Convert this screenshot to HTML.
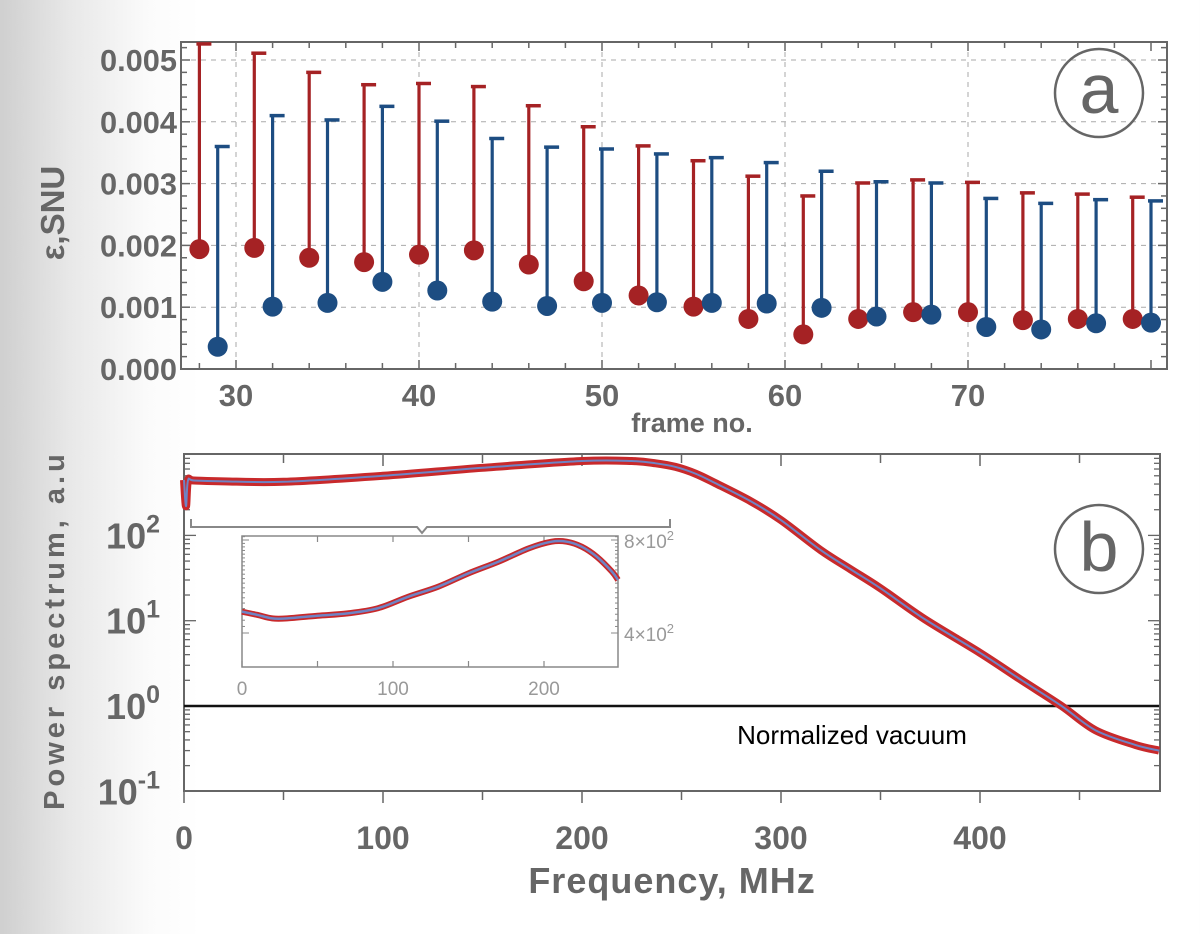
<!DOCTYPE html>
<html><head><meta charset="utf-8">
<style>
html,body{margin:0;padding:0;}
body{width:1200px;height:929px;overflow:hidden;background:linear-gradient(to right,#cfcfcf 0px,#e8e8e8 70px,#fbfbfb 150px,#ffffff 200px);font-family:"Liberation Sans",sans-serif;}
svg text{font-family:"Liberation Sans",sans-serif;}
</style></head>
<body>
<svg id="fig" width="1200" height="929" viewBox="0 0 1200 929" xmlns="http://www.w3.org/2000/svg">
  <g id="panelA"></g>
  <g id="panelB"></g>
</svg>
<script>
// ---------- Panel (a) data ----------
const redFrames = [28,31,34,37,40,43,46,49,52,55,58,61,64,67,70,73,76,79];
const redValues = [0.00194,0.00196,0.00180,0.00173,0.00185,0.00192,0.00169,0.00142,0.00119,0.00101,0.00081,0.00056,0.00081,0.00092,0.00092,0.00079,0.00081,0.00081];
const redUpper  = [0.00526,0.00511,0.00480,0.00460,0.00462,0.00457,0.00426,0.00392,0.00361,0.00337,0.00312,0.00280,0.00301,0.00306,0.00302,0.00285,0.00283,0.00278];
const blueFrames = [29,32,35,38,41,44,47,50,53,56,59,62,65,68,71,74,77,80];
const blueValues = [0.00036,0.00101,0.00107,0.00141,0.00127,0.00109,0.00102,0.00107,0.00108,0.00107,0.00106,0.00099,0.00085,0.00088,0.00068,0.00064,0.00074,0.00075];
const blueUpper  = [0.00360,0.00410,0.00403,0.00425,0.00401,0.00373,0.00359,0.00356,0.00348,0.00342,0.00334,0.00320,0.00303,0.00301,0.00276,0.00268,0.00274,0.00272];
const aXTicks = [30,40,50,60,70];
const aYTicks = [0,0.001,0.002,0.003,0.004,0.005];
const aYTickLabels = ["0.000","0.001","0.002","0.003","0.004","0.005"];

// ---------- Panel (b) data ----------
const specFreq  = [0,1,2,5,20,50,100,150,200,225,237,247,257,267,285,300,320,335,350,372,400,421,441,458,478,490];
const specPower = [447,220,440,440,430,425,500,620,745,745,700,635,530,410,250,151,67,40,24,10.5,4.2,2,1,0.52,0.35,0.30];
const vacFreq  = [0,490];
const vacPower = [1.0,1.0];
const insetFreq  = [0,10,20,30,50,70,90,110,130,150,170,190,205,215,225,235,245,249];
const insetPower = [469,458,446,446,455,463,481,524,565,624,681,752,790,790,761,706,632,594];
const bXTicks = [0,100,200,300,400];
const bYDecades = [-1,0,1,2];
const insetXTicks = [0,100,200];

const NS="http://www.w3.org/2000/svg";
function mk(tag,parent,attrs){const e=document.createElementNS(NS,tag);for(const k in attrs)e.setAttribute(k,attrs[k]);parent.appendChild(e);return e;}
function smooth(pts){let d='M'+pts[0][0]+','+pts[0][1];
 for(let i=0;i<pts.length-1;i++){const p0=pts[Math.max(0,i-1)],p1=pts[i],p2=pts[i+1],p3=pts[Math.min(pts.length-1,i+2)];
  const c1x=p1[0]+(p2[0]-p0[0])/6,c1y=p1[1]+(p2[1]-p0[1])/6,c2x=p2[0]-(p3[0]-p1[0])/6,c2y=p2[1]-(p3[1]-p1[1])/6;
  d+=' C'+c1x+','+c1y+' '+c2x+','+c2y+' '+p2[0]+','+p2[1];}
 return d;}
const gray="#666";

// ===== Panel A =====
(function(){
const g=document.getElementById('panelA');
const L=181,R=1167,T=42,B=369;
const x=v=>236+(v-30)*18.3;
const y=v=>369-v*61800;
aXTicks.forEach(t=>{const l=mk('line',g,{x1:x(t),x2:x(t),y1:T,y2:B,stroke:'#aaa','stroke-width':1,'stroke-dasharray':'5,5'});

});
aYTicks.slice(1).forEach(t=>{const l=mk('line',g,{x1:L,x2:R,y1:y(t),y2:y(t),stroke:'#aaa','stroke-width':1,'stroke-dasharray':'5,5'});

});
const fr=mk('rect',g,{x:L,y:T,width:R-L,height:B-T,fill:'none',stroke:gray,'stroke-width':2});


for(let v=28;v<=80;v+=2){const len=(v%10===0)?9:6;
 mk('line',g,{x1:x(v),x2:x(v),y1:B,y2:B-len,stroke:gray,'stroke-width':1.5});
 mk('line',g,{x1:x(v),x2:x(v),y1:T,y2:T+len,stroke:gray,'stroke-width':1.5});}
for(let i=0;i<=26;i++){const v=i*0.0002;const len=(i%5===0)?9:6;
 mk('line',g,{x1:L,x2:L+len,y1:y(v),y2:y(v),stroke:gray,'stroke-width':1.5});
 mk('line',g,{x1:R,x2:R-len,y1:y(v),y2:y(v),stroke:gray,'stroke-width':1.5});}
aYTicks.forEach((t,i)=>{const tx=mk('text',g,{x:177,y:y(t)+11,'text-anchor':'end','font-size':31,'font-weight':'bold',fill:gray,'textLength':77,'lengthAdjust':'spacingAndGlyphs'});tx.textContent=aYTickLabels[i];

});
aXTicks.forEach(t=>{const tx=mk('text',g,{x:x(t),y:406,'text-anchor':'middle','font-size':31,'font-weight':'bold',fill:gray});tx.textContent=t;

});
const xt=mk('text',g,{x:692,y:432,'text-anchor':'middle','font-size':27,'font-weight':'bold',fill:gray});xt.textContent='frame no.';


const yt=mk('text',g,{x:0,y:0,'text-anchor':'middle','font-size':33,'font-weight':'bold',fill:gray,transform:'translate(64,213) rotate(-90)'});yt.textContent='ε,SNU';


function series(frames,vals,ups,color,name){
 frames.forEach((f,i)=>{
  const ln=mk('line',g,{x1:x(f),x2:x(f),y1:y(vals[i]),y2:y(ups[i]),stroke:color,'stroke-width':3.2});
  
  
  const cap=mk('line',g,{x1:x(f)-3,x2:x(f)+12,y1:y(ups[i]),y2:y(ups[i]),stroke:color,'stroke-width':3.5});
  
  
  const c=mk('circle',g,{cx:x(f),cy:y(vals[i]),r:10,fill:color});
  
  
 });
}
series(redFrames,redValues,redUpper,'#a52224','red-series');
series(blueFrames,blueValues,blueUpper,'#1d4d82','blue-series');
const ca=mk('circle',g,{cx:1099,cy:93,r:44,fill:'none',stroke:gray,'stroke-width':2.5});


const ta=mk('text',g,{x:1099,y:113,'text-anchor':'middle','font-size':70,fill:gray,'font-family':'"Liberation Serif",serif'});ta.textContent='a';


})();

// ===== Panel B =====
(function(){
const g=document.getElementById('panelB');
const L=184,R=1160,T=454,B=791;
const x=f=>184+f*1.99;
const y=p=>706-Math.log10(p)*85.3;
const fr=mk('rect',g,{x:L,y:T,width:R-L,height:B-T,fill:'none',stroke:gray,'stroke-width':2});


for(let f=0;f<=490;f+=50){const len=(f%100===0)?12:9;
 mk('line',g,{x1:x(f),x2:x(f),y1:B,y2:B+len,stroke:gray,'stroke-width':1.5});
 mk('line',g,{x1:x(f),x2:x(f),y1:T,y2:T+len,stroke:gray,'stroke-width':1.5});}
for(let d=-1;d<=2;d++){for(let m=1;m<=9;m++){const p=m*Math.pow(10,d);const yy=y(p);if(yy<T)continue;
 const len=(m===1)?12:6;
 mk('line',g,{x1:L,x2:L+len,y1:yy,y2:yy,stroke:gray,'stroke-width':1.3});
 mk('line',g,{x1:R,x2:R-len,y1:yy,y2:yy,stroke:gray,'stroke-width':1.3});}}
bYDecades.forEach(d=>{const tx=mk('text',g,{x:160,y:y(Math.pow(10,d))+13,'text-anchor':'end','font-size':36,'font-weight':'bold',fill:gray});
 tx.textContent='10';const s=mk('tspan',tx,{dy:-16,'font-size':25});s.textContent=String(d);
 
 });
bXTicks.forEach(t=>{const tx=mk('text',g,{x:x(t),y:849,'text-anchor':'middle','font-size':32,'font-weight':'bold',fill:gray});tx.textContent=t;
 
 });
const xt=mk('text',g,{x:672,y:893,'text-anchor':'middle','font-size':36,'font-weight':'bold',fill:gray,'letter-spacing':'1'});xt.textContent='Frequency, MHz';


const yt=mk('text',g,{x:0,y:0,'text-anchor':'middle','font-size':29,'font-weight':'bold',fill:gray,'letter-spacing':'4',transform:'translate(64,630) rotate(-90)'});yt.textContent='Power spectrum, a.u';


const vp=vacFreq.map((f,i)=>x(f)+','+y(vacPower[i])).join(' ');
const vl=mk('polyline',g,{points:vp,fill:'none',stroke:'#111','stroke-width':2.5});


const vt=mk('text',g,{x:852,y:744,'text-anchor':'middle','font-size':26,fill:'#000'});vt.textContent='Normalized vacuum';


const sd=smooth(specFreq.map((f,i)=>[x(f),y(specPower[i])]));
const rl=mk('path',g,{d:sd,fill:'none',stroke:'#c8292b','stroke-width':8,'stroke-linejoin':'round'});


const bl=mk('path',g,{d:sd,fill:'none',stroke:'#6f84c4','stroke-width':2});


const br=mk('path',g,{d:'M191,519 L191,527 L417,527 L422,533 L427,527 L670,527 L670,519',fill:'none',stroke:'#888','stroke-width':2});


const IL=242,IR=618,IT=536,IB=667;
const ix=f=>242+f*1.51;
const iy=p=>633-Math.log2(p/400)*93;
const ib=mk('rect',g,{x:IL,y:IT,width:IR-IL,height:IB-IT,fill:'#fff',stroke:'#888','stroke-width':1.5});


for(let f=0;f<=249;f+=50){mk('line',g,{x1:ix(f),x2:ix(f),y1:IB,y2:IB-6,stroke:'#888','stroke-width':1.2});mk('line',g,{x1:ix(f),x2:ix(f),y1:IT,y2:IT+6,stroke:'#888','stroke-width':1.2});}
for(let p=400;p<=900;p+=20){const yy=iy(p);if(yy<IT||yy>IB)continue;const len=(p%400===0)?7:3;
 mk('line',g,{x1:IL,x2:IL+len,y1:yy,y2:yy,stroke:'#888','stroke-width':1});
 mk('line',g,{x1:IR,x2:IR-len,y1:yy,y2:yy,stroke:'#888','stroke-width':1});}
insetXTicks.forEach(t=>{const tx=mk('text',g,{x:ix(t),y:695,'text-anchor':'middle','font-size':19,fill:'#999'});tx.textContent=t;
 
 });
[[800,'8'],[400,'4']].forEach(a=>{const tx=mk('text',g,{x:624,y:iy(a[0])+8,'font-size':19,fill:'#999'});tx.textContent=a[1]+'×10';
 const s=mk('tspan',tx,{dy:-8,'font-size':13});s.textContent='2';
 
 });
const id=smooth(insetFreq.map((f,i)=>[ix(f),iy(insetPower[i])]));
const irl=mk('path',g,{d:id,fill:'none',stroke:'#c8292b','stroke-width':6,'stroke-linejoin':'round'});


const ibl=mk('path',g,{d:id,fill:'none',stroke:'#6f84c4','stroke-width':2.5});


const cb=mk('circle',g,{cx:1099,cy:549,r:44,fill:'none',stroke:gray,'stroke-width':2.5});


const tb=mk('text',g,{x:1099,y:571,'text-anchor':'middle','font-size':70,fill:gray,'font-family':'"Liberation Serif",serif'});tb.textContent='b';


})();
</script>
</body></html>
